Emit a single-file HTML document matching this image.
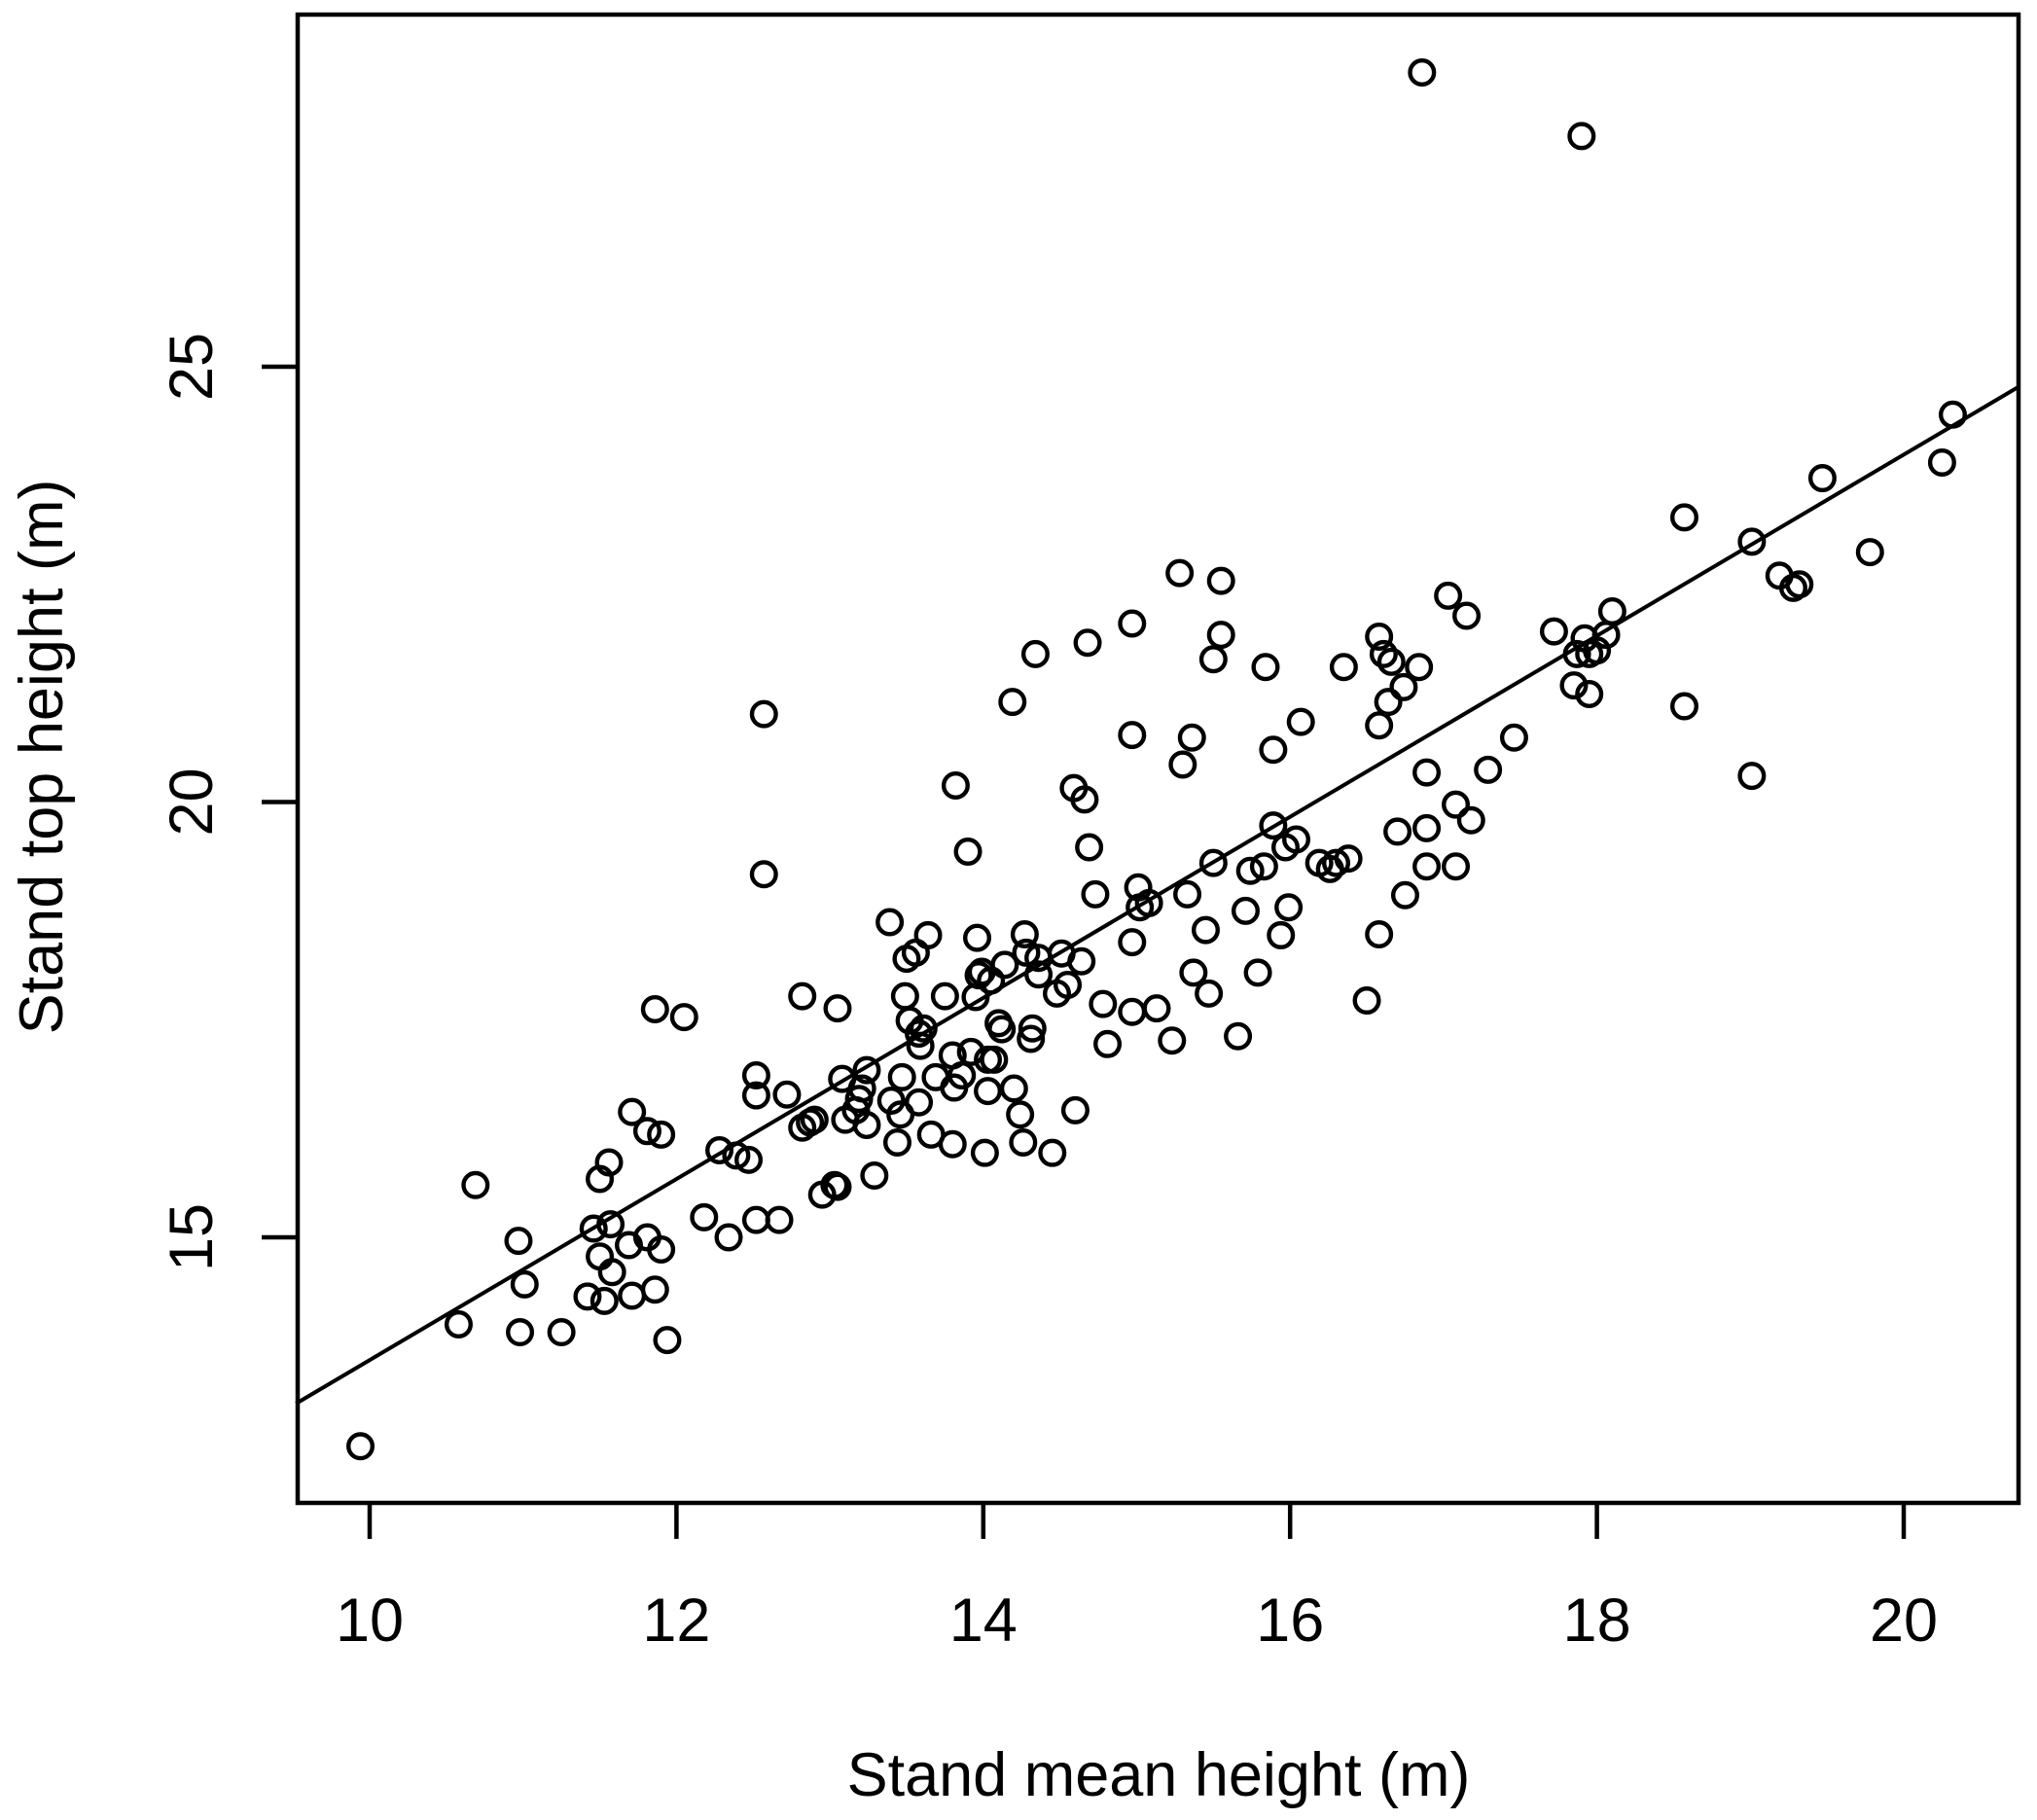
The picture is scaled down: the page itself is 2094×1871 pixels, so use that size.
<!DOCTYPE html>
<html><head><meta charset="utf-8"><style>
html,body{margin:0;padding:0;background:#fff;}
svg{display:block;}
text{font-family:"Liberation Sans",Arial,sans-serif;fill:#000;}
</style></head><body>
<svg id="chart" width="2094" height="1871" viewBox="0 0 2094 1871" xmlns="http://www.w3.org/2000/svg">
<rect x="306" y="15" width="1769" height="1530" fill="none" stroke="#000" stroke-width="4.5"/>
<g id="xaxis"></g>
<g id="yaxis"></g>
<g id="fit"></g>
<g id="points"></g>
<text x="1191" y="1846" font-size="63" text-anchor="middle">Stand mean height (m)</text>
<text transform="translate(64,778) rotate(-90)" font-size="63" text-anchor="middle">Stand top height (m)</text>
</svg>
<script>
const xTicks = [10, 12, 14, 16, 18, 20];
const yTicks = [15, 20, 25];
const fitIntercept = 3.19;
const fitSlope = 1.04;
const meanHeight = [9.94,10.58,10.69,10.97,10.98,11.01,11.25,11.42,11.46,11.50,11.56,11.57,11.50,11.53,11.58,11.69,11.71,11.71,11.81,11.81,11.86,11.90,11.90,11.86,11.94,12.05,12.18,12.28,12.34,12.39,12.47,12.52,12.52,12.52,12.57,12.57,12.67,12.72,12.82,12.82,12.87,12.90,12.95,13.03,13.05,13.05,13.08,13.10,13.17,13.19,13.21,13.24,13.24,13.29,13.39,13.40,13.44,13.46,13.47,13.49,13.50,13.52,13.56,13.58,13.58,13.59,13.61,13.64,13.66,13.69,13.75,13.80,13.80,13.81,13.82,13.86,13.90,13.92,13.95,13.96,13.97,13.99,14.01,14.03,14.03,14.05,14.07,14.10,14.12,14.14,14.19,14.20,14.24,14.26,14.27,14.28,14.31,14.32,14.34,14.36,14.36,14.45,14.48,14.51,14.55,14.59,14.60,14.64,14.66,14.68,14.69,14.73,14.78,14.81,14.97,14.97,14.97,14.97,15.01,15.02,15.08,15.13,15.23,15.28,15.30,15.33,15.36,15.37,15.45,15.47,15.50,15.50,15.55,15.55,15.66,15.71,15.74,15.79,15.83,15.84,15.89,15.89,15.94,15.97,15.99,16.04,16.07,16.19,16.26,16.30,16.35,16.38,16.50,16.58,16.58,16.58,16.61,16.64,16.66,16.70,16.74,16.75,16.84,16.86,16.89,16.89,16.89,17.03,17.08,17.08,17.15,17.18,17.29,17.46,17.72,17.85,17.87,17.90,17.92,17.95,17.95,18.00,18.06,18.10,18.57,18.57,19.01,19.01,19.19,19.28,19.32,19.47,19.78,20.25,20.32];
const topHeight = [12.60,14.00,15.60,14.96,13.91,14.46,13.91,14.32,15.10,15.67,15.86,15.15,14.78,14.27,14.60,14.91,14.33,16.44,15.00,16.22,14.40,14.86,16.18,17.62,13.82,17.53,15.23,16.00,15.00,15.94,15.89,16.86,16.63,15.20,21.01,19.17,15.20,16.64,17.77,16.26,16.32,16.35,15.49,15.60,15.58,17.63,16.82,16.35,16.46,16.59,16.71,16.92,16.29,15.71,18.62,16.57,16.09,16.41,16.84,17.77,18.20,17.49,18.27,17.34,16.55,17.20,17.40,18.47,16.18,16.84,17.77,16.07,17.09,16.72,20.19,16.86,19.43,17.13,17.76,18.44,18.01,18.05,15.97,17.04,16.68,17.95,17.04,17.46,17.39,18.13,21.15,16.71,16.41,16.09,18.48,18.27,17.28,17.40,21.70,18.02,18.21,15.97,17.80,18.26,17.90,20.16,16.46,18.17,20.03,21.83,19.48,18.94,17.68,17.22,22.05,20.77,18.39,17.59,19.02,18.79,18.84,17.63,17.26,22.63,20.43,18.94,20.74,18.04,18.53,17.80,21.64,19.30,22.54,21.92,17.31,18.75,19.21,18.04,19.26,21.55,20.60,19.73,18.47,19.48,18.79,19.57,20.92,19.30,19.23,19.30,21.55,19.35,17.72,21.90,20.88,18.48,21.70,21.15,21.61,19.66,21.32,18.93,21.55,28.38,20.34,19.70,19.26,22.37,19.97,19.26,22.14,19.79,20.37,20.74,21.96,21.34,21.70,27.65,21.88,21.24,21.70,21.74,21.92,22.19,23.27,21.10,22.99,20.30,22.60,22.46,22.50,23.72,22.87,23.90,24.45];

const NS = "http://www.w3.org/2000/svg";
const PL = 306, PR = 2075, PT = 15, PB = 1545;
function sx(v){ return 380 + (v - 10) * 157.7; }
function sy(v){ return 824.5 - (v - 20) * 89.5; }
function mk(tag, attrs, parent){
  const e = document.createElementNS(NS, tag);
  for (const k in attrs) e.setAttribute(k, attrs[k]);
  parent.appendChild(e);
  return e;
}
const xa = document.getElementById('xaxis');
xTicks.forEach(t => {
  const l = mk('line', {x1: sx(t), x2: sx(t), y1: PB, y2: PB + 37, stroke: '#000', 'stroke-width': 4.5}, xa);
  
  
  const tx = mk('text', {x: sx(t), y: 1687, 'font-size': 63, 'text-anchor': 'middle'}, xa);
  tx.textContent = t;
  
  
});
const ya = document.getElementById('yaxis');
yTicks.forEach(t => {
  const l = mk('line', {x1: PL - 37, x2: PL, y1: sy(t), y2: sy(t), stroke: '#000', 'stroke-width': 4.5}, ya);
  
  
  const tx = mk('text', {transform: 'translate(218,' + sy(t) + ') rotate(-90)', 'font-size': 63, 'text-anchor': 'middle'}, ya);
  tx.textContent = t;
  
  
});
const fg = document.getElementById('fit');
const x0 = 9.52, x1 = 20.75;
const fl = mk('line', {x1: sx(x0), y1: sy(fitIntercept + fitSlope * x0), x2: sx(x1), y2: sy(fitIntercept + fitSlope * x1), stroke: '#000', 'stroke-width': 4}, fg);


const pg = document.getElementById('points');
meanHeight.forEach((x, i) => {
  const c = mk('circle', {cx: sx(x), cy: sy(topHeight[i]), r: 12.3, fill: 'none', stroke: '#000', 'stroke-width': 4.4}, pg);
  
  
});
</script>
</body></html>
